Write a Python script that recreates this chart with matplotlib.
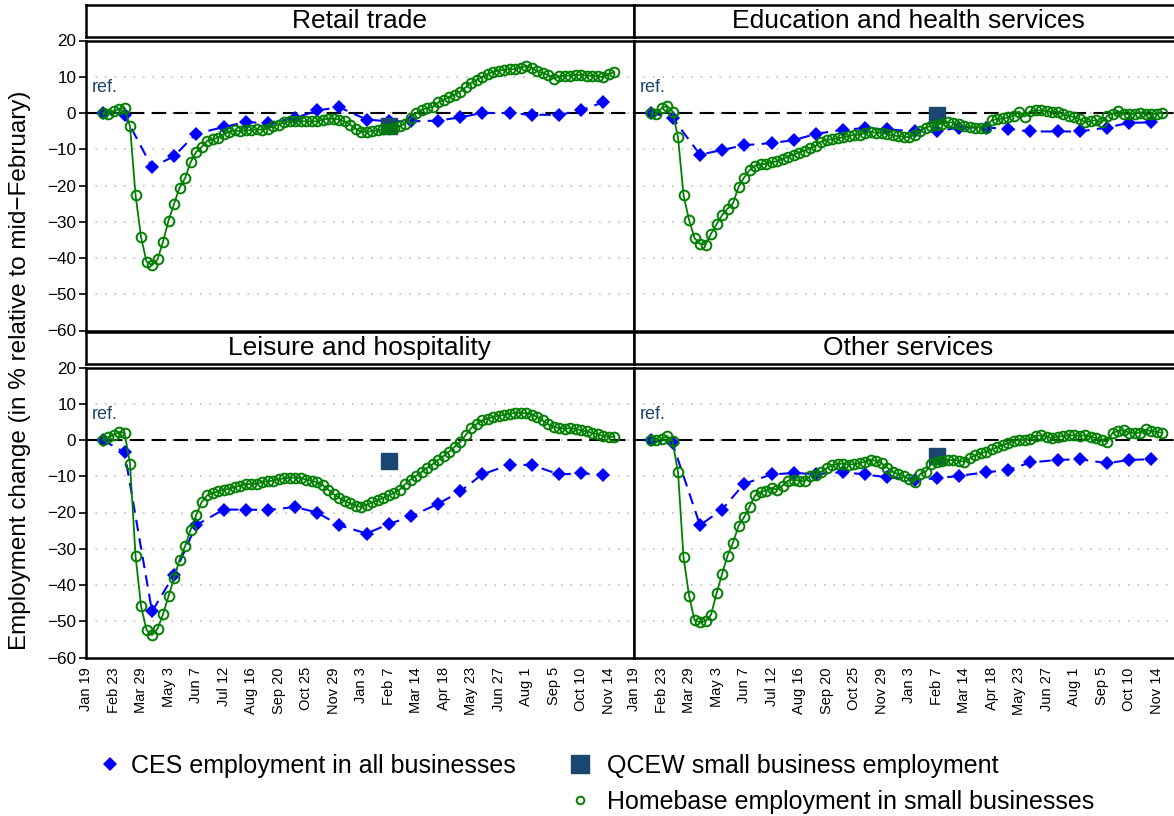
import matplotlib.pyplot as plt
from matplotlib.lines import Line2D
import numpy as np

plt.rcParams['font.family'] = ['Liberation Sans', 'DejaVu Sans']

# x axis: weeks since Jan 19, 2020
tick_weeks = list(range(0, 96, 5))
tick_labels = ["Jan 19", "Feb 23", "Mar 29", "May 3", "Jun 7", "Jul 12", "Aug 16",
               "Sep 20", "Oct 25", "Nov 29", "Jan 3", "Feb 7", "Mar 14", "Apr 18",
               "May 23", "Jun 27", "Aug 1", "Sep 5", "Oct 10", "Nov 14"]

# CES (monthly reference weeks)
ces_weeks = [3, 7, 12, 16, 20, 25, 29, 33, 38, 42, 46, 51, 55, 59, 64, 68, 72, 77, 81, 86, 90, 94]
ces_retail = [0, -0.6, -15.0, -11.9, -5.7, -3.9, -2.5, -2.8, -1.4, 0.7, 1.6, -1.8,
              -2.3, -2.3, -2.1, -1.2, 0, 0, -0.5, -0.5, 0.7, 3.0]
ces_educ = [0, -1.3, -11.5, -10.2, -8.9, -8.3, -7.5, -5.8, -4.6, -4.2, -4.5, -5.1,
            -5.1, -4.0, -4.0, -4.4, -5.1, -5.1, -5.1, -4.0, -2.7, -2.6]
ces_leisure = [0, -3.4, -47.3, -37.2, -23.5, -19.2, -19.2, -19.3, -18.5, -20.0, -23.5, -25.8,
               -23.2, -21.1, -17.6, -14.2, -9.5, -6.8, -6.9, -9.5, -9.2, -9.6]
ces_other = [0, -0.9, -23.5, -19.2, -12.1, -9.5, -9.1, -9.4, -8.9, -9.5, -10.3, -10.9,
             -10.6, -9.9, -8.9, -8.3, -6.2, -5.5, -5.3, -6.4, -5.5, -5.3]

# QCEW (single point, Feb 2021)
qcew_week = 55
qcew_retail = -3.5
qcew_educ = -0.6
qcew_leisure = -5.8
qcew_other = -4.5

# Homebase (weekly, starting at week 3)
home_start = 3
home_retail = [0, -0.3, 0.5, 1.1, 1.4, -3.7, -22.6, -34.2, -41.0, -42.0, -40.4, -35.5,
               -29.7, -25.1, -20.6, -18.0, -13.6, -10.8, -9.4, -7.7, -7.3, -6.8, -5.9, -5.2,
               -4.8, -5.0, -4.8, -4.7, -4.5, -4.6, -4.3, -3.7, -3.2, -2.6, -2.3, -2.3, -2.3,
               -2.3, -2.3, -2.3, -1.8, -1.6, -1.6, -1.8, -2.3, -3.2, -4.3, -5.2, -5.2, -5.0,
               -4.8, -4.5, -4.3, -4.1, -3.6, -3.0, -1.5, -0.1, 0.8, 1.4, 1.6, 2.9, 3.6, 4.4,
               5.0, 5.9, 7.1, 8.3, 9.1, 9.9, 10.7, 11.4, 11.7, 11.9, 12.1, 12.1, 12.5, 13.0,
               12.5, 11.5, 11.0, 10.5, 9.5, 10.1, 10.3, 10.3, 10.5, 10.5, 10.3, 10.3, 10.1,
               9.9, 10.7, 11.3]
home_educ = [0, -0.4, 1.3, 2.0, 0.4, -6.7, -22.6, -29.5, -34.5, -36.1, -36.3, -33.3,
             -30.7, -28.2, -26.4, -24.9, -20.4, -17.8, -15.8, -14.5, -14.2, -14.0, -13.6,
             -13.3, -12.7, -12.0, -11.5, -10.9, -10.4, -9.7, -9.1, -7.9, -7.5, -7.2, -7.0,
             -6.7, -6.4, -6.0, -6.0, -5.5, -5.3, -5.4, -5.5, -5.8, -6.2, -6.4, -6.5, -6.7,
             -6.0, -4.9, -4.0, -3.6, -3.3, -2.9, -2.5, -2.7, -3.1, -3.6, -3.8, -4.0, -4.0,
             -4.0, -2.0, -1.7, -1.5, -1.2, -0.8, 0.4, -1.0, 0.5, 0.7, 0.7, 0.5, 0.4, 0.3,
             -0.4, -0.8, -1.1, -1.7, -2.6, -2.2, -2.0, -2.6, -0.8, -0.2, 0.5, -0.2, -0.4,
             -0.2, 0.1, -0.4, -0.4, -0.2, 0.0]
home_leisure = [0, 0.7, 1.4, 2.2, 2.0, -6.5, -31.9, -45.8, -52.4, -53.8, -52.1, -48.0,
                -43.1, -38.1, -33.0, -29.3, -24.8, -20.8, -17.2, -15.3, -14.6, -14.2, -13.7,
                -13.5, -13.0, -12.6, -12.1, -12.1, -12.1, -11.5, -11.4, -11.2, -10.8, -10.6,
                -10.4, -10.4, -10.5, -10.9, -11.2, -11.7, -12.4, -13.7, -14.9, -16.0, -16.8,
                -17.5, -18.1, -18.5, -17.9, -17.2, -16.6, -16.0, -15.3, -14.6, -13.7, -12.2,
                -10.9, -9.9, -8.8, -7.7, -6.7, -5.5, -4.4, -3.2, -1.9, -0.5, 1.3, 3.3, 4.4,
                5.4, 5.9, 6.4, 6.7, 6.9, 7.2, 7.5, 7.5, 7.4, 7.0, 6.4, 5.4, 4.3, 3.6, 3.3,
                3.1, 3.3, 3.0, 2.7, 2.4, 2.0, 1.6, 1.1, 0.9, 0.9]
home_other = [0, 0, 0.2, 1.1, -0.3, -8.9, -32.3, -42.9, -49.7, -50.3, -50.0, -48.2,
              -42.3, -37.0, -31.9, -28.3, -23.7, -21.3, -18.4, -15.3, -14.4, -14.0, -13.2,
              -13.7, -12.6, -11.2, -10.9, -11.2, -11.4, -9.9, -9.7, -8.8, -7.8, -6.9, -6.7,
              -6.5, -6.8, -6.7, -6.4, -6.0, -5.5, -5.7, -6.4, -7.6, -8.8, -9.4, -9.9, -10.8,
              -11.5, -9.4, -8.8, -6.7, -6.2, -5.7, -5.5, -5.5, -5.7, -6.0, -5.1, -4.2, -3.6,
              -3.3, -2.6, -2.0, -1.4, -0.9, -0.3, 0, 0, 0.4, 1.1, 1.3, 0.9, 0.5, 0.9, 1.1,
              1.3, 1.3, 1.1, 1.3, 0.9, 0.5, 0, -0.5, 2.0, 2.5, 2.7, 2.0, 2.0, 2.0, 2.9, 2.4,
              2.2, 2.0]

panels = [
    ("Retail trade", ces_retail, qcew_retail, home_retail),
    ("Education and health services", ces_educ, qcew_educ, home_educ),
    ("Leisure and hospitality", ces_leisure, qcew_leisure, home_leisure),
    ("Other services", ces_other, qcew_other, home_other),
]

blue = '#0000ff'
green = '#008000'
navy = '#1a476f'

W, H = 1174, 816
fig = plt.figure(figsize=(W / 100, H / 100), dpi=100)


def box(x0, y0, w, h):
    return [x0 / W, 1 - (y0 + h) / H, w / W, h / H]


spots = [(86, 40.5), (634, 40.5), (86, 367.5), (634, 367.5)]

for i, (name, ces, qcew, home) in enumerate(panels):
    x0, y0 = spots[i]
    ax = fig.add_axes(box(x0, y0, 548, 290))
    hw = np.arange(home_start, home_start + len(home))

    ax.axhline(0, color='black', lw=1.5, ls=(0, (7, 3.5)), zorder=1.5)
    ax.plot(ces_weeks, ces, color=blue, lw=1.5, ls=(0, (5.5, 3.5)),
            marker='D', ms=7, mew=0, zorder=3)
    ax.plot([qcew_week], [qcew], color=navy, marker='s', ms=12, ls='none', zorder=4)
    ax.plot(hw, home, color=green, lw=1.3, marker='o', ms=7, mfc='none', mew=1.4, zorder=5)
    ax.text(1.0, 7, 'ref.', color=navy, fontsize=13, ha='left', va='center')

    ax.set_xlim(0, 99.6)
    ax.set_ylim(-60, 20)
    ax.set_yticks(range(-60, 21, 10))
    ax.set_xticks(tick_weeks)
    ax.set_xticklabels(tick_labels, rotation=90)
    ax.grid(axis='y', color='#c0c0c0', ls=(0, (1, 4.7)), lw=1.2)
    ax.set_axisbelow(True)
    for s in ax.spines.values():
        s.set_linewidth(1.8)
    ax.tick_params(axis='y', length=5, width=1.2, labelsize=12.3, pad=2)
    ax.tick_params(axis='x', length=0, labelsize=10.5, pad=7)
    if i % 2 == 1:
        ax.tick_params(axis='y', length=0, labelleft=False)
    if i < 2:
        ax.tick_params(axis='x', labelbottom=False)

    strip = fig.add_axes(box(x0, y0 - 36, 548, 32.5))
    strip.set_xticks([])
    strip.set_yticks([])
    for s in strip.spines.values():
        s.set_linewidth(1.8)
    strip.text(0.5, 0.5, name, fontsize=19, ha='center', va='center',
               transform=strip.transAxes)

fig.text(20 / W, 1 - 370 / H, 'Employment change (in % relative to mid\u2212February)',
         rotation=90, fontsize=17.5, ha='center', va='center')

# legend: CES on the left, QCEW and Homebase stacked on the right
h_ces = Line2D([], [], color=blue, marker='D', ms=7, mew=0, ls='none')
h_qcew = Line2D([], [], color=navy, marker='s', ms=13, ls='none')
h_home = Line2D([], [], color=green, marker='o', ms=5.5, mfc='none', mew=1.4, ls='none')

fig.legend([h_ces], ['CES employment in all businesses'], loc='upper left',
           bbox_to_anchor=(97.5 / W, 1 - 754 / H), frameon=False, fontsize=18,
           handlelength=1.0, handletextpad=0.34, borderpad=0, borderaxespad=0)
fig.legend([h_qcew, h_home],
           ['QCEW small business employment', 'Homebase employment in small businesses'],
           loc='upper left', bbox_to_anchor=(567.5 / W, 1 - 754 / H), frameon=False,
           fontsize=18, handlelength=1.0, handletextpad=0.58, labelspacing=0.46,
           borderpad=0, borderaxespad=0)

fig.savefig('out.png', dpi=100)
